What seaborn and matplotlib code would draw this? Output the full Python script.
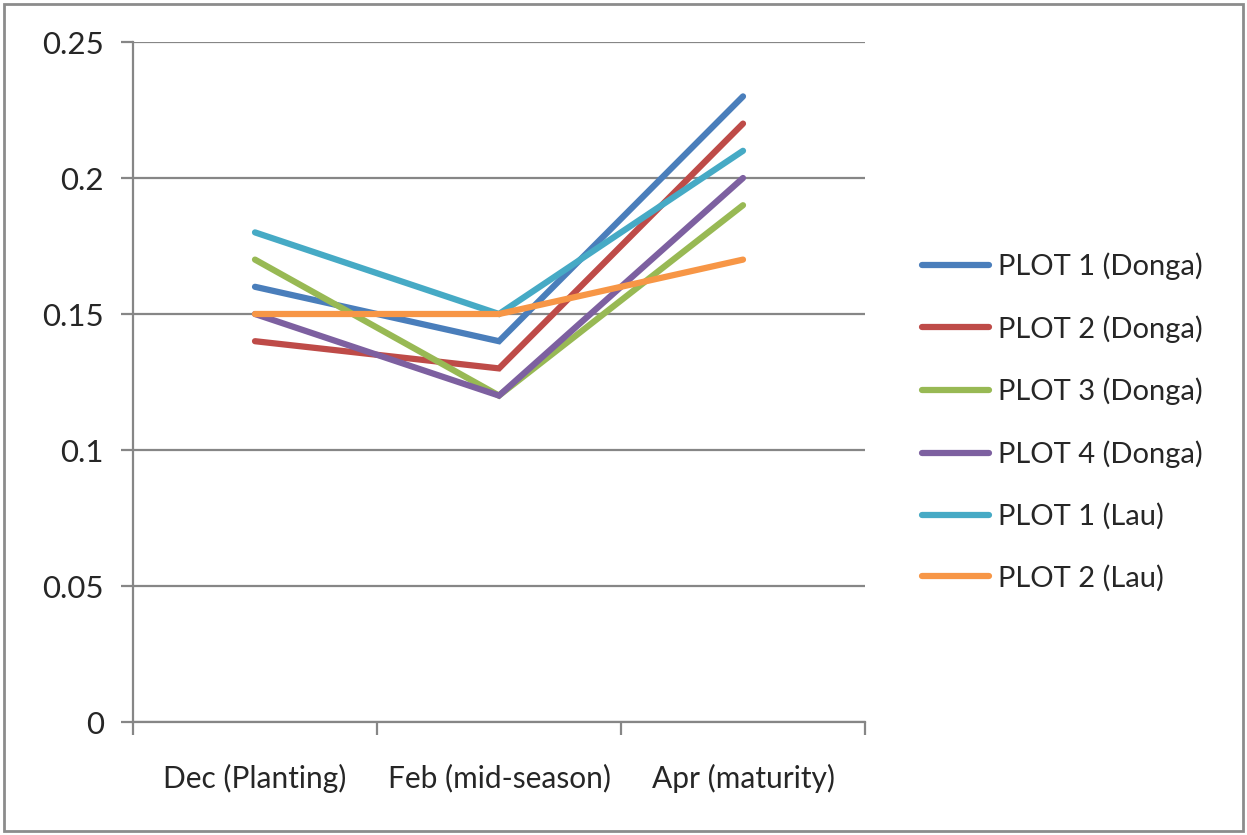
import matplotlib
matplotlib.use("Agg")
import matplotlib.pyplot as plt
from matplotlib.patches import Rectangle
from matplotlib.ticker import FixedLocator, NullFormatter
import seaborn as sns
import pandas as pd

# Sampling dates and measured values per plot
categories = ["Dec (Planting)", "Feb (mid-season)", "Apr (maturity)"]
series_names = ["PLOT 1 (Donga)", "PLOT 2 (Donga)", "PLOT 3 (Donga)",
                "PLOT 4 (Donga)", "PLOT 1 (Lau)", "PLOT 2 (Lau)"]
plot1_donga = [0.16, 0.14, 0.23]
plot2_donga = [0.14, 0.13, 0.22]
plot3_donga = [0.17, 0.12, 0.19]
plot4_donga = [0.15, 0.12, 0.20]
plot1_lau = [0.18, 0.15, 0.21]
plot2_lau = [0.15, 0.15, 0.17]
y_ticks = [0, 0.05, 0.1, 0.15, 0.2, 0.25]
y_tick_labels = ["0", "0.05", "0.1", "0.15", "0.2", "0.25"]

colors = ["#4A7EBB", "#BE4B48", "#98B954", "#7D60A0", "#46AAC5", "#F79646"]

values = [plot1_donga, plot2_donga, plot3_donga, plot4_donga, plot1_lau, plot2_lau]
rows = []
for name, vals in zip(series_names, values):
    for i, v in enumerate(vals):
        rows.append({"date": categories[i], "pos": i, "value": v, "plot": name})
df = pd.DataFrame(rows)

sns.set_style("white")
plt.rcParams["font.family"] = ["Lato", "DejaVu Sans"]

fig = plt.figure(figsize=(12.47, 8.35), dpi=100)
ax = fig.add_axes([133 / 1247, 1 - 722 / 835, (865 - 133) / 1247, 680 / 835])

sns.lineplot(data=df, x="pos", y="value", hue="plot", hue_order=series_names,
             palette=colors, linewidth=4.5, ax=ax, legend=True,
             solid_capstyle="round", solid_joinstyle="miter")

grid_color = "#868686"
ax.set_ylim(0, 0.25)
ax.set_xlim(-0.5, 2.5)
ax.set_yticks(y_ticks)
ax.set_yticklabels(y_tick_labels, fontsize=22.5)
for y in y_ticks:
    ax.axhline(y, color=grid_color, linewidth=1.6, zorder=0.5)

# Category labels centred, tick marks at boundaries
ax.set_xticks(range(len(categories)))
ax.set_xticklabels(categories, fontsize=21.5)
ax.tick_params(axis="x", which="major", length=0, pad=30)
ax.xaxis.set_minor_locator(FixedLocator([-0.5, 0.5, 1.5, 2.5]))
ax.xaxis.set_minor_formatter(NullFormatter())
ax.tick_params(axis="x", which="minor", length=9, width=1.6, color=grid_color,
               direction="out", bottom=True)
ax.tick_params(axis="y", which="major", length=9, width=1.6, color=grid_color,
               direction="out", left=True, pad=12)

for side in ["top", "right"]:
    ax.spines[side].set_visible(False)
for side in ["left", "bottom"]:
    ax.spines[side].set_color(grid_color)
    ax.spines[side].set_linewidth(1.6)
ax.set_xlabel("")
ax.set_ylabel("")

handles, labels = ax.get_legend_handles_labels()
ax.get_legend().remove()
fig.legend(handles, labels, loc="center left", bbox_to_anchor=(910 / 1247, 1 - 422 / 835),
           frameon=False, fontsize=21, handlelength=2.3, handletextpad=0.3,
           labelspacing=1.2, borderaxespad=0)

fig.patches.append(Rectangle((4 / 1247, 4 / 835), 1 - 8 / 1247, 1 - 8 / 835,
                             transform=fig.transFigure, fill=False,
                             edgecolor="#8c8c8c", linewidth=2.0))

fig.savefig("out.png", dpi=100)
